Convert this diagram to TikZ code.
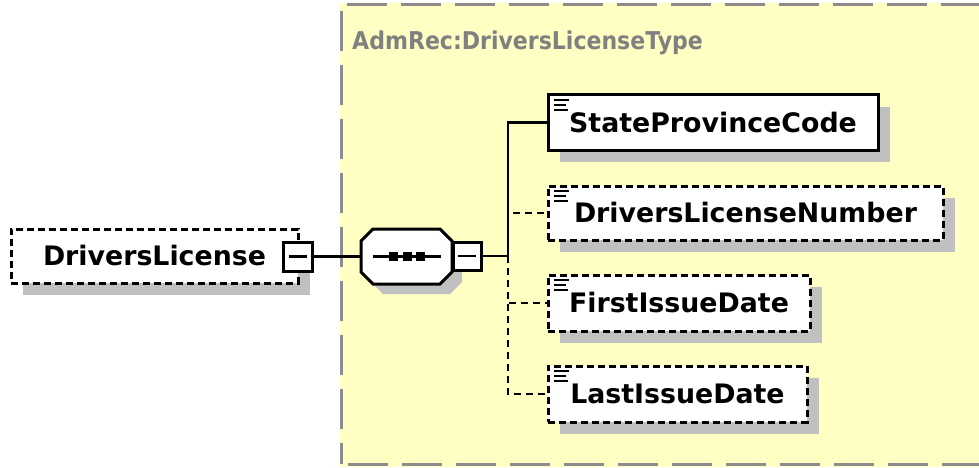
\documentclass[tikz,border=0pt]{standalone}
\usepackage{fontspec}
\setmainfont{DejaVu Sans}
\usetikzlibrary{calc,shadows}
\definecolor{bgyellow}{HTML}{FFFFC4}
\definecolor{framegray}{HTML}{8C8C8C}
\definecolor{shadowgray}{HTML}{C0C0C0}
\definecolor{titlegray}{HTML}{808080}
\tikzset{
  x=1pt, y=-1pt,
  shadowed/.style={drop shadow={shadow xshift=12pt, shadow yshift=-12pt, fill=shadowgray, opacity=1, draw=none}},
  elem/.style={draw=black, line width=3pt, fill=white, outer sep=0pt, inner sep=0pt,
    font=\fontsize{26.8}{30}\selectfont\bfseries, shadowed},
  optelem/.style={elem, dash pattern=on 7pt off 4pt},
  minusbox/.style={draw=black, line width=3pt, fill=white, outer sep=0pt, inner sep=0pt,
    minimum width=28pt, minimum height=28pt},
  wire/.style={line width=2.5pt},
  optwire/.style={line width=2.5pt, dash pattern=on 7pt off 5pt},
  border/.style={draw=framegray, line width=3pt, dash pattern=on 40pt off 14pt},
  icon/.style={line width=2.2pt},
}
\newcommand{\elemicon}[1]{%
  \draw[icon] ($(#1.north west)+(6,5)$) -- ++(15,0);
  \draw[icon] ($(#1.north west)+(6,10)$) -- ++(12,0);
  \draw[icon] ($(#1.north west)+(6,15)$) -- ++(14,0);
}
\begin{document}
\begin{tikzpicture}
\useasboundingbox (0,0) rectangle (979,468);
% type area
\fill[bgyellow] (340,3) rectangle (990,467);
\draw[border] (347,5) -- (990,5);
\draw[border] (348,464) -- (990,464);
\draw[border] (341,11) -- (341,464);
\node[anchor=west, text=titlegray, font=\fontsize{24.5}{28}\selectfont\bfseries, inner sep=0pt]
  (title) at (352,43) {\scalebox{0.9}[1]{AdmRec:DriversLicenseType}};
% root element
\node[optelem, minimum width=287pt, minimum height=54pt] (dl) at (154.5,256)
  {DriversLicense\hspace{15pt}};
\node[minusbox, minimum width=29pt, minimum height=29pt] (dlminus) at (297.5,256.5) {};
\draw[wire] ($(dlminus.center)+(-9,0)$) -- ($(dlminus.center)+(9,0)$);
% sequence compositor (octagon drawn on the node's frame)
\node[outer sep=0pt, inner sep=0pt, minimum width=91pt, minimum height=55pt] (seq) at (406.5,256.5) {};
\fill[shadowgray] ($(seq.north west)+(22,10)$) -- ($(seq.north east)+(-2,10)$) -- ($(seq.north east)+(10,22)$)
  -- ($(seq.south east)+(10,-2)$) -- ($(seq.south east)+(-2,10)$) -- ($(seq.south west)+(22,10)$)
  -- ($(seq.south west)+(10,-2)$) -- ($(seq.north west)+(10,22)$) -- cycle;
\draw[line width=3pt, fill=white, line join=miter]
  ($(seq.north west)+(12,0)$) -- ($(seq.north east)+(-12,0)$) -- ($(seq.north east)+(0,12)$)
  -- ($(seq.south east)+(0,-12)$) -- ($(seq.south east)+(-12,0)$) -- ($(seq.south west)+(12,0)$)
  -- ($(seq.south west)+(0,-12)$) -- ($(seq.north west)+(0,12)$) -- cycle;
\draw[wire] ($(seq.center)+(-33.5,0)$) -- ($(seq.center)+(34.5,0)$);
\foreach \dx in {-13.5,0.5,13.5}
  \fill ($(seq.center)+(\dx-4.5,-4.5)$) rectangle ($(seq.center)+(\dx+4.5,4.5)$);
\node[minusbox] (seqminus) at (467,256) {};
\draw[wire] ($(seqminus.center)+(-9,0)$) -- ($(seqminus.center)+(9,0)$);
% children
\node[elem, minimum width=330pt, minimum height=55pt] (spc) at (713,122.5) {StateProvinceCode};
\node[optelem, minimum width=395pt, minimum height=54pt] (dln) at (745.5,213) {DriversLicenseNumber};
\node[optelem, minimum width=262pt, minimum height=56pt] (fid) at (679,303) {FirstIssueDate};
\node[optelem, minimum width=259pt, minimum height=56pt] (lid) at (677.5,394) {LastIssueDate};
\elemicon{spc}
\elemicon{dln}
\elemicon{fid}
\elemicon{lid}
% connectors
\coordinate (bus) at (508,256);
\draw[wire] (dlminus.east) -- (seq.west);
\draw[optwire] (bus) |- (dln.west);
\draw[optwire] (bus) |- (fid.west);
\draw[optwire] (bus) |- (lid.west);
\draw[wire] (seqminus.east) -- (bus) |- (spc.west);
\end{tikzpicture}
\end{document}
